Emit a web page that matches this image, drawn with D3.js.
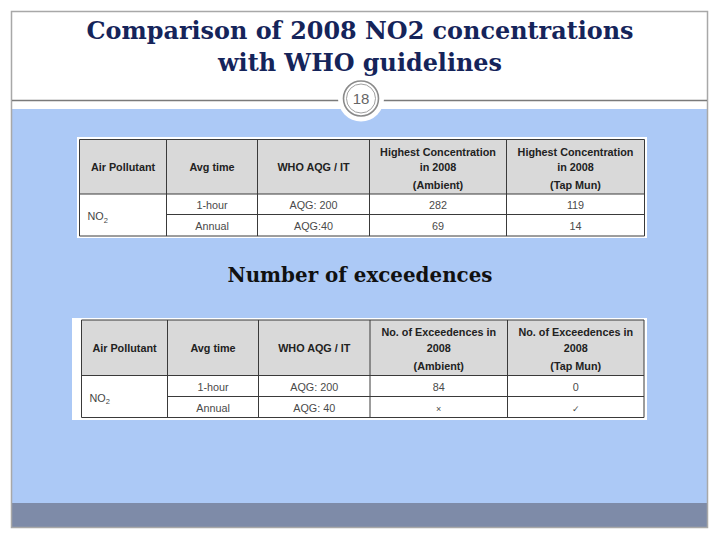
<!DOCTYPE html>
<html>
<head>
<meta charset="utf-8">
<script src="https://cdn.jsdelivr.net/npm/d3@7"></script>
<style>
  body { margin: 0; background: #fff; }
  svg { display: block; }
</style>
</head>
<body>
<div id="chart"></div>
<script>
// slide texts
const titleLines = ["Comparison of 2008 NO2 concentrations", "with WHO guidelines"];
const slideNumber = "18";
const subTitle = "Number of exceedences";

// table 1 : highest concentrations
const concHeaders = [
  ["Air Pollutant"], ["Avg time"], ["WHO AQG / IT"],
  ["Highest Concentration", "in 2008", "(Ambient)"],
  ["Highest Concentration", "in 2008", "(Tap Mun)"]
];
const avgTimes = ["1-hour", "Annual"];
const concGuidelines = ["AQG: 200", "AQG:40"];
const concAmbient = ["282", "69"];
const concTapMun = ["119", "14"];

// table 2 : exceedences
const excHeaders = [
  ["Air Pollutant"], ["Avg time"], ["WHO AQG / IT"],
  ["No. of Exceedences in", "2008", "(Ambient)"],
  ["No. of Exceedences in", "2008", "(Tap Mun)"]
];
const excGuidelines = ["AQG: 200", "AQG: 40"];
const excAmbient = ["84", "\u00d7"];
const excTapMun = ["0", "\u2713"];

const W = 720, H = 540;
const svg = d3.select("#chart").append("svg").attr("width", W).attr("height", H);

// slide frame
svg.append("rect").attr("x", 12).attr("y", 109).attr("width", 695).attr("height", 394).attr("fill", "#acc9f6");
svg.append("rect").attr("x", 12).attr("y", 503).attr("width", 695).attr("height", 24).attr("fill", "#7e8ba8");
svg.append("rect").attr("x", 11.5).attr("y", 11.5).attr("width", 696).attr("height", 516)
  .attr("fill", "none").attr("stroke", "#a8a8a8").attr("stroke-width", 1.5);
svg.append("line").attr("x1", 12).attr("x2", 707).attr("y1", 100.5).attr("y2", 100.5)
  .attr("stroke", "#7a7a7a").attr("stroke-width", 1.5);

// slide number badge
const badge = svg.append("g").attr("transform", "translate(361,98.5)");
badge.append("circle").attr("r", 23).attr("fill", "#fff");
badge.append("circle").attr("r", 17.5).attr("fill", "#fff").attr("stroke", "#8a8a8a").attr("stroke-width", 1.6);
badge.append("circle").attr("r", 14.5).attr("fill", "none").attr("stroke", "#a0a0a0").attr("stroke-width", 1);
badge.append("text").attr("text-anchor", "middle").attr("dy", "0.36em")
  .attr("font-family", "Liberation Sans, Arial, sans-serif").attr("font-size", 15)
  .attr("fill", "#666").text(slideNumber);

// title
const titleWidths = [547, 284];
svg.selectAll(".title").data(titleLines).join("text")
  .attr("class", "title")
  .attr("x", 360).attr("y", (d, i) => 39 + i * 31.5)
  .attr("text-anchor", "middle")
  .attr("font-family", "DejaVu Serif, Georgia, serif").attr("font-weight", "bold")
  .attr("font-size", 24)
  .attr("textLength", (d, i) => titleWidths[i]).attr("lengthAdjust", "spacingAndGlyphs")
  .attr("fill", "#15245a")
  .text(d => d);

svg.append("text").attr("x", 360).attr("y", 282).attr("text-anchor", "middle")
  .attr("font-family", "DejaVu Serif, Georgia, serif").attr("font-weight", "bold")
  .attr("font-size", 20.5).attr("textLength", 265).attr("lengthAdjust", "spacingAndGlyphs")
  .attr("fill", "#111").text(subTitle);

function drawTable(cfg) {
  const g = svg.append("g");
  const xs = cfg.cols, y0 = cfg.top, yH = cfg.headBottom, yM = cfg.mid, y1 = cfg.bottom;
  g.append("rect").attr("x", cfg.bg[0]).attr("y", cfg.bg[1])
    .attr("width", cfg.bg[2] - cfg.bg[0]).attr("height", cfg.bg[3] - cfg.bg[1]).attr("fill", "#fff");
  g.append("rect").attr("x", xs[0]).attr("y", y0).attr("width", xs[5] - xs[0]).attr("height", yH - y0)
    .attr("fill", "#d9d9d9");

  const stroke = "#3a3a3a";
  const hline = (xa, xb, y) => g.append("line").attr("x1", xa).attr("x2", xb).attr("y1", y).attr("y2", y)
    .attr("stroke", stroke).attr("stroke-width", 1);
  hline(xs[0], xs[5], y0);
  hline(xs[0], xs[5], yH);
  hline(xs[1], xs[5], yM);
  hline(xs[0], xs[5], y1);
  g.selectAll(".vl").data(xs).join("line")
    .attr("x1", d => d).attr("x2", d => d).attr("y1", y0).attr("y2", y1)
    .attr("stroke", stroke).attr("stroke-width", 1);

  const font = "Liberation Sans, Arial, sans-serif";
  const centers = d3.pairs(xs).map(p => (p[0] + p[1]) / 2);

  // header
  cfg.headers.forEach((lines, i) => {
    const ys = lines.length === 1 ? [(y0 + yH) / 2 + 4] : cfg.headLines;
    g.selectAll(null).data(lines).join("text")
      .attr("x", centers[i]).attr("y", (d, j) => ys[j])
      .attr("text-anchor", "middle").attr("font-family", font).attr("font-weight", "bold")
      .attr("font-size", 10.8).attr("fill", "#222").text(d => d);
  });

  // body
  const rowY = [(yH + yM) / 2 + 4.5, (yM + y1) / 2 + 4.5];
  const no2 = g.append("text").attr("x", xs[0] + 8).attr("y", (yH + y1) / 2 + 5)
    .attr("font-family", font).attr("font-size", 10.8).attr("fill", "#444");
  no2.append("tspan").text("NO");
  no2.append("tspan").attr("font-size", 7.5).attr("dy", 2.5).text("2");

  const bodyCols = [avgTimes, cfg.guide, cfg.amb, cfg.tap];
  bodyCols.forEach((vals, c) => {
    g.selectAll(null).data(vals).join("text")
      .attr("x", centers[c + 1]).attr("y", (d, r) => rowY[r])
      .attr("text-anchor", "middle").attr("font-family", font)
      .attr("font-size", d => (d === "\u00d7" || d === "\u2713") ? 9 : 10.8)
      .attr("fill", "#4a4a4a").text(d => d);
  });
}

drawTable({
  bg: [77, 137, 647, 238],
  cols: [79.5, 166.5, 257.5, 369.5, 506.5, 644.5],
  top: 139.5, headBottom: 194, mid: 214.5, bottom: 236,
  headLines: [156, 171, 189],
  headers: concHeaders, guide: concGuidelines, amb: concAmbient, tap: concTapMun
});

drawTable({
  bg: [72, 318, 647, 420],
  cols: [81.5, 167.5, 258.5, 370, 507.5, 644],
  top: 320, headBottom: 375.5, mid: 396.5, bottom: 417.5,
  headLines: [336, 352, 370],
  headers: excHeaders, guide: excGuidelines, amb: excAmbient, tap: excTapMun
});
</script>
</body>
</html>
